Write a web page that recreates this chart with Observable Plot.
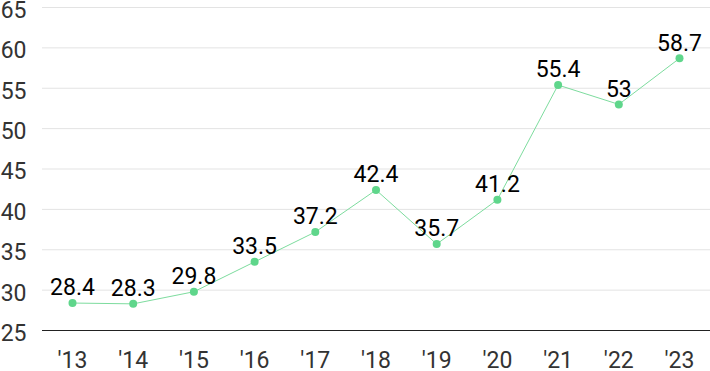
<!DOCTYPE html>
<html><head><meta charset="utf-8">
<script src="https://cdn.jsdelivr.net/npm/d3@7"></script>
<script src="https://cdn.jsdelivr.net/npm/@observablehq/plot@0.6"></script>
<style>body{margin:0;background:#fff;font-family:Roboto,sans-serif}</style>
</head><body><div id="chart"></div>
<script>
const years = ["'13","'14","'15","'16","'17","'18","'19","'20","'21","'22","'23"];
const values = [28.4,28.3,29.8,33.5,37.2,42.4,35.7,41.2,55.4,53,58.7];
const yTicks = [25,30,35,40,45,50,55,60,65];
const data = years.map((y,i)=>({year:y, value:values[i]}));
const chart = Plot.plot({
  width:710, height:371,
  marginLeft:42, marginRight:0, marginTop:7, marginBottom:41,
  style:{fontFamily:"Roboto, sans-serif", fontSize:"23px", background:"#fff"},
  x:{type:"point", domain:years, range:[72,679], padding:0, round:false, label:null},
  y:{domain:[25,65], label:null},
  marks:[
    Plot.gridY(yTicks,{stroke:"#e3e3e3", strokeOpacity:1}),
    Plot.axisY(yTicks,{tickSize:0, tickPadding:16, dy:3, fill:"#333", fontSize:23, label:null}),
    Plot.axisX({tickSize:0, tickPadding:21, fill:"#333", fontSize:23, label:null}),
    Plot.ruleY([25],{stroke:"#222", strokeWidth:1}),
    Plot.line(data,{x:"year", y:"value", stroke:"#7ddc9e", strokeWidth:1}),
    Plot.dot(data,{x:"year", y:"value", fill:"#5fd68b", r:4}),
    Plot.text(data,{x:"year", y:"value", text:d=>String(d.value), dy:-15, fill:"#000", fontSize:23})
  ]
});
document.getElementById("chart").append(chart);
</script></body></html>
